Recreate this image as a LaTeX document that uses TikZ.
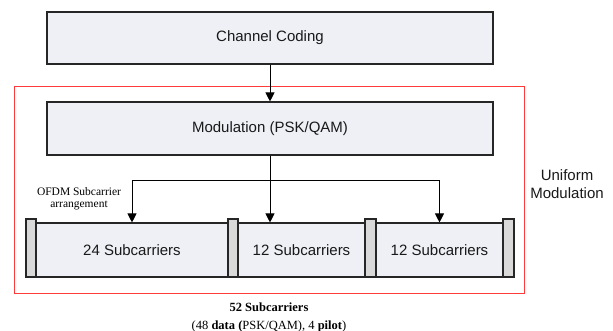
\documentclass[tikz,border=0pt]{standalone}
\usepackage{fontspec}
\setmainfont{Liberation Serif}
\setsansfont{Liberation Sans}
\usetikzlibrary{arrows.meta}
\definecolor{boxfill}{HTML}{EEF0F5}
\definecolor{barfill}{HTML}{D9D9D9}
\definecolor{edge}{HTML}{262626}
\definecolor{frame}{HTML}{FF3B3B}
\tikzset{
  block/.style={draw=edge, line width=1.1pt, fill=boxfill, inner sep=0pt,
    font=\sffamily\fontsize{15}{18}\selectfont, text=black!90},
  carrier/.style={block},
  pilotbar/.style={draw=edge, line width=1.1pt, fill=barfill, inner sep=0pt},
  arr/.style={draw=black, line width=0.9pt, -{Triangle[width=9pt,length=9pt]}},
  note/.style={inner sep=0pt, align=center},
}
\begin{document}
\begin{tikzpicture}[x=1pt, y=-1pt]
  \useasboundingbox (0,0) rectangle (613,331);

  % outer frame of the uniform-modulation stage
  \node[draw=frame, line width=0.9pt, inner sep=0pt, minimum width=510pt, minimum height=207pt]
    (stage) at (269,189.5) {};

  % processing blocks
  \node[block, minimum width=446pt, minimum height=52pt] (cc) at (270,38) {Channel Coding};
  \node[block, minimum width=446pt, minimum height=53pt] (mod) at (270,128.5) {Modulation (PSK/QAM)};

  % pilot bars between the subcarrier groups
  \node[pilotbar, minimum width=10pt, minimum height=58pt] (p0) at (31,248) {};
  \node[pilotbar, minimum width=10pt, minimum height=58pt] (p1) at (233,248) {};
  \node[pilotbar, minimum width=11pt, minimum height=58pt] (p2) at (370.5,248) {};
  \node[pilotbar, minimum width=11pt, minimum height=58pt] (p3) at (508.5,248) {};

  % data subcarrier groups
  \node[carrier, minimum width=192pt, minimum height=54pt] (g1) at (132,250) {24 Subcarriers};
  \node[carrier, minimum width=127pt, minimum height=54pt] (g2) at (301.5,250) {12 Subcarriers};
  \node[carrier, minimum width=127pt, minimum height=54pt] (g3) at (439.5,250) {12 Subcarriers};

  % connectors
  \draw[arr] (cc.south) -- (mod.north);
  \coordinate (split) at (270,180);
  \draw[arr] (mod.south) -- (mod.south |- g2.north);
  \draw[arr] (split) -| (g1.north);
  \draw[arr] (split) -| (g3.north);

  % labels
  \node[note, font=\fontsize{11.5}{12.5}\selectfont] (arrange) at (79,199)
    {OFDM Subcarrier\\arrangement};
  \node[note, font=\sffamily\fontsize{15}{18}\selectfont, text=black!90] (uni) at (567,184)
    {Uniform\\Modulation};
  \node[note, font=\fontsize{12.5}{18}\selectfont] (total) at (269,317)
    {\textbf{52 Subcarriers}\\(48 \textbf{data (}PSK/QAM), 4 \textbf{pilot})};
\end{tikzpicture}
\end{document}
